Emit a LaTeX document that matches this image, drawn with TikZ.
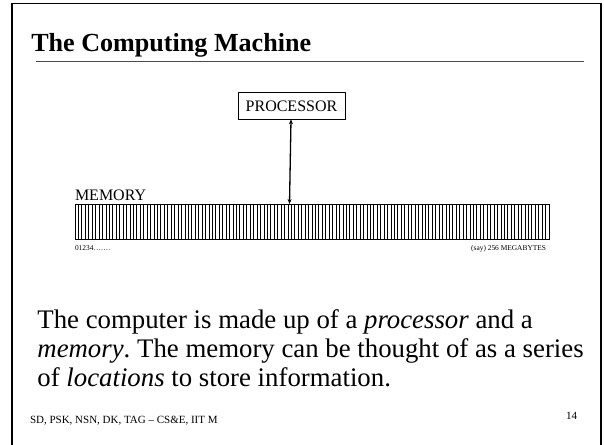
\documentclass[tikz,border=0pt]{standalone}
\usepackage{fontspec}
\setmainfont{Liberation Serif}
\usetikzlibrary{arrows.meta}
\frenchspacing

\begin{document}
\begin{tikzpicture}[x=1pt,y=-1pt,
  every node/.style={inner sep=0pt,outer sep=0pt},
  boxlabel/.style={draw,line width=0.8pt,minimum width=107pt,minimum height=26.6pt,font=\fontsize{16}{18}\selectfont},
  tiny/.style={font=\fontsize{7.4}{8}\selectfont},
  bodyline/.style={anchor=base west,font=\fontsize{26.8}{28}\selectfont},
  foot/.style={anchor=base west,font=\fontsize{11}{13}\selectfont},
  cellline/.style={line width=0.8pt},
  link/.style={line width=1.3pt,{Stealth[length=5pt,width=4pt]}-{Stealth[length=5pt,width=4pt]}}
]
\useasboundingbox (0,0) rectangle (604,444);

% slide frame
\draw[line width=1.8pt] (12,460) -- (12,3.5) -- (601,3.5) -- (601,460);

% heading and rule
\node[anchor=base west,font=\bfseries\fontsize{26.1}{30}\selectfont] (title) at (31.3,51.7) {The Computing Machine};
\draw[line width=1.3pt,black!70] (36,61.7) -- (583.6,61.7);

% processor
\node[boxlabel] (proc) at (291.5,106) {PROCESSOR};

% memory as a row of cells
\node[anchor=base west,font=\fontsize{16}{18}\selectfont] (memlabel) at (75,200) {MEMORY};
\draw[cellline] (75,204) rectangle (549,239.3);
\foreach \i in {1,...,137} {
  \draw[cellline] ({75+\i*3.4348},204) -- ({75+\i*3.4348},239.3);
}
\coordinate (memtop) at (289.5,204);
\draw[link] (proc.south -| 291,0) -- (memtop);

\node[tiny,anchor=base west] (first) at (75,250) {01234…….};
\node[tiny,anchor=base east] (last) at (546,250) {(say) 256 MEGABYTES};

% body text
\node[bodyline] (body1) at (37.4,328) {The computer is made up of a \textit{processor} and a};
\node[bodyline] (body2) at (37.4,357) {\textit{memory}. The memory can be thought of as a series};
\node[bodyline] (body3) at (37.4,386) {of \textit{locations} to store information.};

% footer
\node[foot] (footer) at (30,423) {SD, PSK, NSN, DK, TAG – CS\&E, IIT M};
\node[foot] (page) at (566,419) {14};
\end{tikzpicture}
\end{document}
